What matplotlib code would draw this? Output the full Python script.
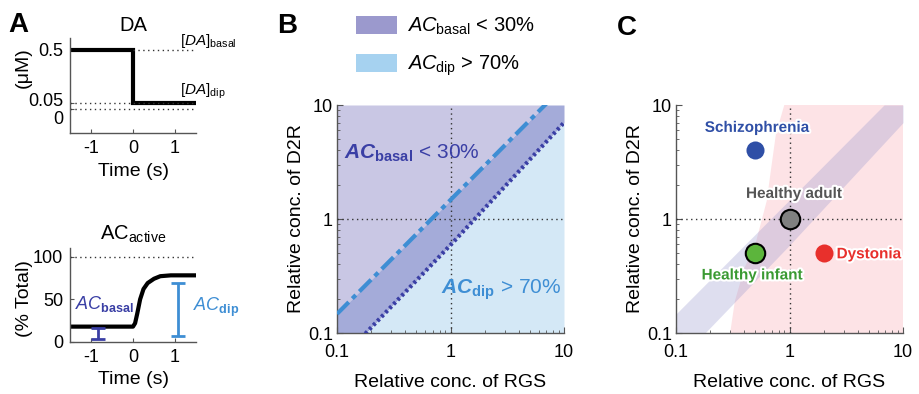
import matplotlib
matplotlib.use("Agg")
import matplotlib.pyplot as plt
import matplotlib.patheffects as pe
from matplotlib.patches import Patch
from matplotlib.transforms import ScaledTranslation
import numpy as np

plt.rcParams['font.family'] = ['Liberation Sans', 'DejaVu Sans']
plt.rcParams['mathtext.fontset'] = 'custom'
plt.rcParams['mathtext.rm'] = 'Liberation Sans'
plt.rcParams['mathtext.it'] = 'Liberation Sans:italic'
plt.rcParams['mathtext.bf'] = 'Liberation Sans:bold'
plt.rcParams['mathtext.bfit'] = 'Liberation Sans:bold:italic'

# ---------------- data ----------------
# Panel A (top): DA concentration step
da_time = [-1.5, 0.0, 0.0, 1.5]
da_conc = [0.5, 0.5, 0.05, 0.05]
da_basal = 0.5
da_dip = 0.05

# Panel A (bottom): AC active (% total)
ac_time = [-1.5, 0.0, 0.05, 0.1, 0.17, 0.25, 0.35, 0.5, 0.65, 0.9, 1.5]
ac_val = [18, 18, 22, 33, 50, 62, 69, 74, 77, 78, 78]
ac_basal_err = (-0.83, 4, 16)   # x, low, high
ac_dip_err = (1.08, 7, 69)

# Panel B / C: boundary lines (RGS vs D2R)
upper_x = [0.1, 1.0, 6.8]
upper_y = [0.147, 1.47, 10.0]
lower_x = [0.18, 1.0, 10.0]
lower_y = [0.1, 0.59, 7.0]

# Panel C: pink (dystonia-prone) region left boundary
pink_x = [0.30, 0.33, 0.40, 0.50, 0.63, 0.69, 0.76, 0.90]
pink_y = [0.10, 0.19, 0.37, 0.60, 1.44, 2.8, 5.6, 10.0]

# Panel C: conditions
cond_names = ['Schizophrenia', 'Healthy adult', 'Healthy infant', 'Dystonia']
cond_rgs = [0.5, 1.0, 0.5, 2.0]
cond_d2r = [4.0, 1.0, 0.5, 0.5]
cond_colors = ['#2f4fa6', '#808080', '#5cb53c', '#e8302c']
cond_text_colors = ['#2f4fa6', '#555555', '#3a9a32', '#e8302c']
cond_edges = ['none', 'black', 'black', 'none']

# ---------------- figure ----------------
W, H = 919, 394
fig = plt.figure(figsize=(W / 100, H / 100), dpi=100)

def ax_px(l, t, r, b):
    return fig.add_axes([l / W, 1 - b / H, (r - l) / W, (b - t) / H])

DARK = '#3a3fa5'
LIGHT = '#3e8ed4'
FS_A = 13
FS_T = 13
FS_L = 14

def style_simple(ax):
    for s in ['top', 'right']:
        ax.spines[s].set_visible(False)
    for s in ['left', 'bottom']:
        ax.spines[s].set_color('#555555')
        ax.spines[s].set_linewidth(1)
    ax.tick_params(direction='in', length=3, labelsize=FS_A, color='#555555', pad=5)

# Panel A top
axA1 = ax_px(70, 38, 196, 133)
style_simple(axA1)
axA1.plot(da_time, da_conc, color='black', lw=3, solid_joinstyle='miter')
axA1.plot([0, 1.5], [da_basal, da_basal], ls=(0, (1, 2.5)), color='#333333', lw=1)
axA1.plot([-1.5, 1.5], [da_dip, da_dip], ls=(0, (1, 2.5)), color='#333333', lw=1)
axA1.plot([-1.5, 1.5], [0, 0], ls=(0, (1, 2.5)), color='#333333', lw=1)
axA1.set_xlim(-1.5, 1.5)
axA1.set_ylim(-0.2, 0.6)
axA1.set_xticks([-1, 0, 1])
axA1.set_xticklabels(['-1', '0', '1'])
axA1.set_yticks([0, 0.05, 0.5])
axA1.set_yticklabels(['0', '0.05', '0.5'])
ylabs = axA1.get_yticklabels()
ylabs[0].set_transform(ylabs[0].get_transform() + ScaledTranslation(0, -6 / 72, fig.dpi_scale_trans))
ylabs[1].set_transform(ylabs[1].get_transform() + ScaledTranslation(0, 2.5 / 72, fig.dpi_scale_trans))
axA1.set_title('DA', fontsize=14.5, pad=5)
axA1.set_xlabel('Time (s)', fontsize=FS_L, labelpad=4)
axA1.set_ylabel('(μM)', fontsize=FS_L)
axA1.yaxis.set_label_coords(-0.30, 0.69)
axA1.text(1.12, 0.5, r'$[\mathit{DA}]_{\rm basal}$', fontsize=11, va='bottom', ha='left', clip_on=False)
axA1.text(1.12, 0.07, r'$[\mathit{DA}]_{\rm dip}$', fontsize=11, va='bottom', ha='left', clip_on=False)

# Panel A bottom
axA2 = ax_px(70, 248, 196, 342)
style_simple(axA2)
axA2.plot([-1.5, 1.5], [100, 100], ls=(0, (1, 2.5)), color='#333333', lw=1)
axA2.plot(ac_time, ac_val, color='black', lw=3)
axA2.errorbar([ac_basal_err[0]], [(ac_basal_err[1] + ac_basal_err[2]) / 2],
              yerr=[[(ac_basal_err[2] - ac_basal_err[1]) / 2]], color=DARK, lw=2, capsize=5, capthick=2)
axA2.errorbar([ac_dip_err[0]], [(ac_dip_err[1] + ac_dip_err[2]) / 2],
              yerr=[[(ac_dip_err[2] - ac_dip_err[1]) / 2]], color=LIGHT, lw=2, capsize=5, capthick=2)
axA2.set_xlim(-1.5, 1.5)
axA2.set_ylim(0, 110)
axA2.set_xticks([-1, 0, 1])
axA2.set_xticklabels(['-1', '0', '1'])
axA2.set_yticks([0, 50, 100])
axA2.set_title(r'AC$_{\rm active}$', fontsize=14.5, pad=6)
axA2.set_xlabel('Time (s)', fontsize=FS_L, labelpad=4)
axA2.set_ylabel('(% Total)', fontsize=FS_L)
axA2.yaxis.set_label_coords(-0.29, 0.46)
axA2.text(-1.38, 45, r'$\mathit{AC}_{\mathbf{basal}}$', color=DARK, fontsize=13, va='center', ha='left')
axA2.text(1.43, 40, r'$\mathit{AC}_{\mathbf{dip}}$', color=LIGHT, fontsize=13, va='center', ha='left', clip_on=False)

# ---- Panels B and C common
xs = np.logspace(-1, 1, 400)

def line_y(xp, yp, x):
    lx = np.log10(x)
    slope_l = (np.log10(yp[1]) - np.log10(yp[0])) / (np.log10(xp[1]) - np.log10(xp[0]))
    slope_r = (np.log10(yp[-1]) - np.log10(yp[-2])) / (np.log10(xp[-1]) - np.log10(xp[-2]))
    out = np.interp(lx, np.log10(xp), np.log10(yp))
    out = np.where(lx < np.log10(xp[0]), np.log10(yp[0]) + slope_l * (lx - np.log10(xp[0])), out)
    out = np.where(lx > np.log10(xp[-1]), np.log10(yp[-1]) + slope_r * (lx - np.log10(xp[-1])), out)
    return 10 ** out

yu = np.clip(line_y(upper_x, upper_y, xs), 0.1, 10)
yl = np.clip(line_y(lower_x, lower_y, xs), 0.1, 10)

def style_log(ax):
    ax.set_xscale('log')
    ax.set_yscale('log')
    ax.set_xlim(0.1, 10)
    ax.set_ylim(0.1, 10)
    for s in ['top', 'right']:
        ax.spines[s].set_visible(False)
    for s in ['left', 'bottom']:
        ax.spines[s].set_color('#555555')
        ax.spines[s].set_linewidth(1)
    ax.set_xticks([0.1, 1, 10])
    ax.set_xticklabels(['0.1', '1', '10'])
    ax.set_yticks([0.1, 1, 10])
    ax.set_yticklabels(['0.1', '1', '10'])
    ax.tick_params(which='major', direction='in', length=4, labelsize=FS_T, color='#555555', pad=3)
    ax.tick_params(axis='x', which='major', pad=8)
    ax.tick_params(which='minor', direction='in', length=2, color='#555555')
    ax.set_xlabel('Relative conc. of RGS', fontsize=FS_L, labelpad=9)
    ax.set_ylabel('Relative conc. of D2R', fontsize=FS_L, labelpad=2)
    ax.axvline(1, ls=(0, (1, 2.5)), color='#333333', lw=1, zorder=3)
    ax.axhline(1, ls=(0, (1, 2.5)), color='#333333', lw=1, zorder=3)

# Panel B
axB = ax_px(337, 105, 564, 333)
axB.fill_between(xs, yu, 10, color='#c9c7e4', lw=0, zorder=1)
axB.fill_between(xs, yl, yu, color='#a4abd9', lw=0, zorder=1)
axB.fill_between(xs, 0.1, yl, color='#d4e8f6', lw=0, zorder=1)
axB.plot(xs, line_y(upper_x, upper_y, xs), color=LIGHT, lw=3, ls=(0, (4, 1.2, 1.2, 1.2)), zorder=4)
axB.plot(xs, line_y(lower_x, lower_y, xs), color=DARK, lw=3, ls=(0, (0.7, 0.7)), zorder=4)
style_log(axB)
axB.text(0.115, 3.8, r'$\mathbfit{AC}_{\mathbf{basal}}$ < 30%', color=DARK, fontsize=15, va='center', ha='left', zorder=5)
axB.text(0.82, 0.24, r'$\mathbfit{AC}_{\mathbf{dip}}$ > 70%', color=LIGHT, fontsize=15, va='center', ha='left', zorder=5)
handles = [Patch(facecolor='#9b99cd', edgecolor='none', label=r'$\mathit{AC}_{\rm basal}$ < 30%'),
           Patch(facecolor='#a6d2f0', edgecolor='none', label=r'$\mathit{AC}_{\rm dip}$ > 70%')]
axB.legend(handles=handles, loc='upper left', bbox_to_anchor=(0.085, 1.39), frameon=False,
           fontsize=14.5, handlelength=2.0, handleheight=1.0, labelspacing=0.8, handletextpad=0.5,
           borderaxespad=0, borderpad=0)

# Panel C
axC = ax_px(676, 105, 903, 333)
px_poly = list(pink_x) + [10, 10]
py_poly = list(pink_y) + [10, 0.1]
axC.fill(px_poly, py_poly, color='#fde3e6', lw=0, zorder=1)
axC.fill_between(xs, yl, yu, color='#9494cd', alpha=0.3, lw=0, zorder=2)
style_log(axC)
for name, xr, yd, fc, tc, ec in zip(cond_names, cond_rgs, cond_d2r, cond_colors, cond_text_colors, cond_edges):
    axC.plot([xr], [yd], 'o', ms=13 if ec == 'none' else 14, mfc=fc, mec=ec, mew=1.5, zorder=6)
outline = [pe.withStroke(linewidth=3, foreground='white')]
label_pos = {'Schizophrenia': (0.52, 6.3, 'center'),
             'Healthy adult': (1.1, 1.66, 'center'),
             'Healthy infant': (0.47, 0.32, 'center'),
             'Dystonia': (2.6, 0.49, 'left')}
for name, tc in zip(cond_names, cond_text_colors):
    lx, ly, ha = label_pos[name]
    axC.text(lx, ly, name, color=tc, fontsize=11, fontweight='bold', ha=ha, va='center',
             path_effects=outline, zorder=7)

# Panel letters
fig.text(8 / W, 1 - 25 / H, 'A', fontsize=20, fontweight='bold', va='center', ha='left')
fig.text(277 / W, 1 - 26 / H, 'B', fontsize=20, fontweight='bold', va='center', ha='left')
fig.text(617 / W, 1 - 28 / H, 'C', fontsize=20, fontweight='bold', va='center', ha='left')

fig.savefig('out.png', dpi=100)
